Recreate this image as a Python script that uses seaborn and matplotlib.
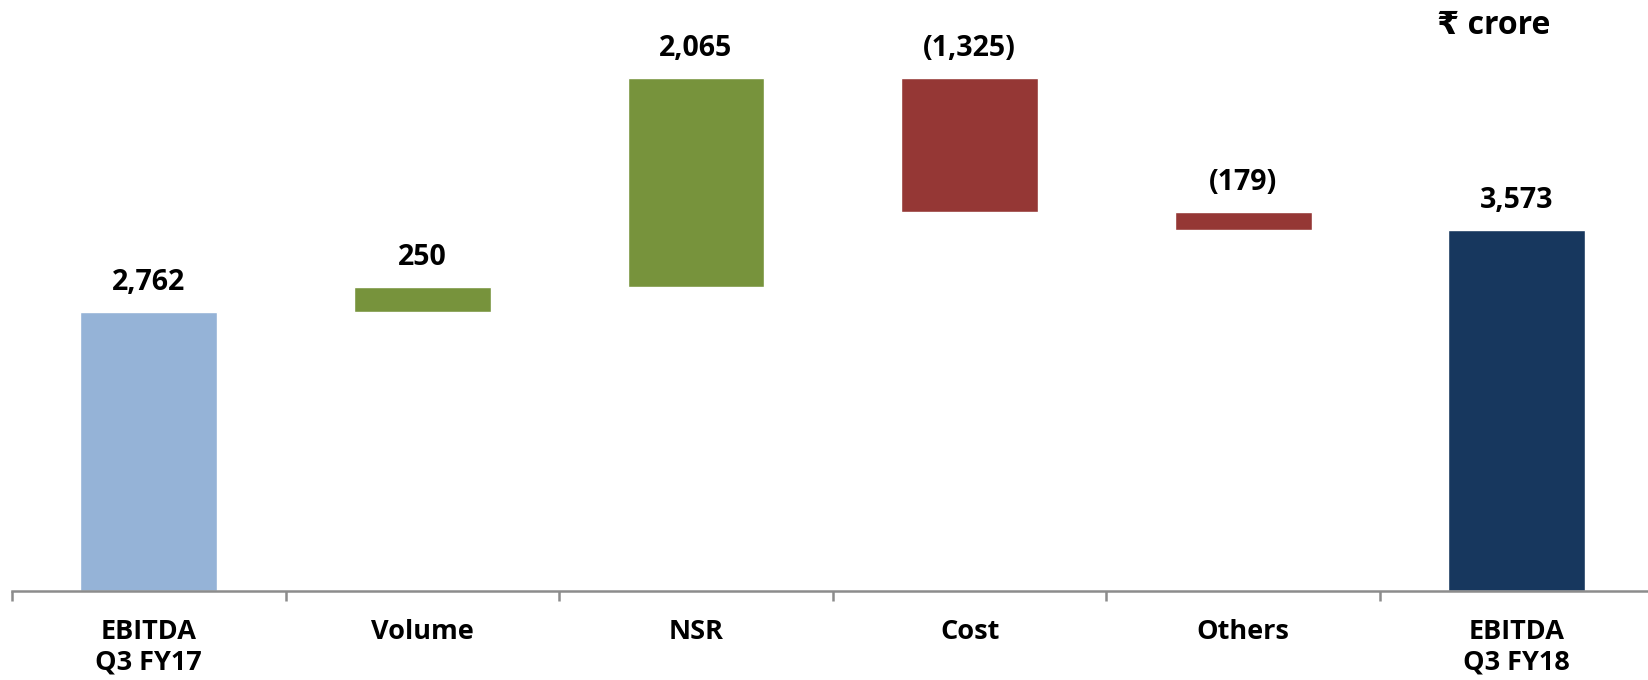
import numpy as np
import pandas as pd
import matplotlib
matplotlib.use("Agg")
import matplotlib.pyplot as plt
import seaborn as sns

categories = ["EBITDA\nQ3 FY17", "Volume", "NSR", "Cost", "Others", "EBITDA\nQ3 FY18"]
start_value = 2762
changes = [250, 2065, -1325, -179]
end_value = 3573
bar_colors = ["#95B3D7", "#77933C", "#77933C", "#953735", "#953735", "#17375E"]
unit_label = "\u20b9 crore"

# Waterfall geometry: floating bars between running totals
running = np.cumsum([start_value] + changes)
bottoms = [0] + [min(a, b) for a, b in zip(running[:-1], running[1:])] + [0]
tops = [start_value] + [max(a, b) for a, b in zip(running[:-1], running[1:])] + [end_value]
values = [start_value] + changes + [end_value]

df = pd.DataFrame({"cat": categories, "top": tops, "bottom": bottoms, "value": values})

sns.set_style("white")
FONTS = ["Open Sans", "DejaVu Sans"]
plt.rcParams["font.family"] = FONTS
plt.rcParams["font.weight"] = "bold"

W, H = 1648, 680
fig = plt.figure(figsize=(W / 100, H / 100), dpi=100)
ax = fig.add_axes([12 / W, 89 / H, 1641.6 / W, 591 / H])

palette = dict(zip(categories, bar_colors))
sns.barplot(data=df, x="cat", y="top", hue="cat", palette=palette, dodge=False,
            legend=False, width=0.5, saturation=1, ax=ax, zorder=1)
sns.barplot(data=df, x="cat", y="bottom", color="white", width=0.52,
            saturation=1, ax=ax, zorder=1.5)

ax.set_xlim(-0.5, 5.5)
ax.set_ylim(0, 5849)
ax.set_xlabel("")
ax.set_ylabel("")
ax.set_yticks([])

for s in ["top", "right", "left"]:
    ax.spines[s].set_visible(False)
ax.spines["bottom"].set_color("#8C8C8C")
ax.spines["bottom"].set_linewidth(1.8)
ax.spines["bottom"].set_zorder(3)

# category labels at bar centres, boundary ticks between categories
ax.set_xticks(range(len(categories)))
ax.set_xticklabels(categories, fontsize=19.5, fontweight="bold", linespacing=1.22)
ax.tick_params(axis="x", which="major", bottom=True, length=0, pad=20, labelcolor="black")
ax.set_xticks(np.arange(-0.5, len(categories), 1.0), minor=True)
ax.tick_params(axis="x", which="minor", bottom=True, length=7, width=1.8,
               color="#8C8C8C", direction="out")

def fmt(v):
    return f"({abs(v):,})" if v < 0 else f"{v:,}"

for i, row in df.iterrows():
    ax.annotate(fmt(row["value"]), xy=(i, row["top"]), xytext=(0, 15.5),
                textcoords="offset points", ha="center", va="baseline",
                fontsize=20.5, fontweight="bold", color="black")

fig.text(1550 / W, 1 - 25 / H, unit_label, ha="right", va="center",
         fontsize=23, fontweight="bold", color="black", family=FONTS)

fig.savefig("out.png", dpi=100)
